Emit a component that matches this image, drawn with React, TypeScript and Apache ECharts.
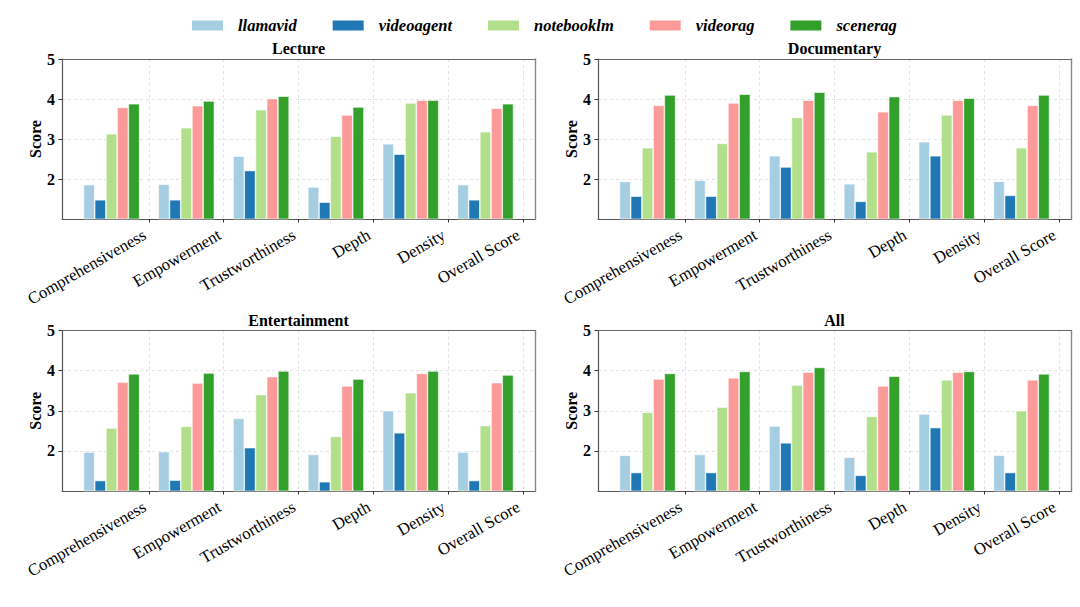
import React, { useEffect, useRef } from 'react';
import * as echarts from 'echarts';

const categories = ['Comprehensiveness', 'Empowerment', 'Trustworthiness', 'Depth', 'Density', 'Overall Score'];
const models = ['llamavid', 'videoagent', 'notebooklm', 'videorag', 'scenerag'];
const colors = ['#a6cee3', '#1f78b4', '#b2df8a', '#fb9a99', '#33a02c'];
const panelTitles = ['Lecture', 'Documentary', 'Entertainment', 'All'];
const yTicks = [2, 3, 4, 5];

// values per panel, per model (in categories order)
const lecture = [
  [1.86, 1.87, 2.57, 1.80, 2.88, 1.86],
  [1.48, 1.48, 2.21, 1.42, 2.62, 1.48],
  [3.13, 3.28, 3.73, 3.07, 3.90, 3.18],
  [3.79, 3.83, 4.01, 3.60, 3.97, 3.77],
  [3.88, 3.95, 4.07, 3.80, 3.97, 3.88],
];
const documentary = [
  [1.94, 1.97, 2.58, 1.88, 2.93, 1.94],
  [1.57, 1.57, 2.30, 1.44, 2.58, 1.59],
  [2.78, 2.89, 3.54, 2.68, 3.60, 2.78],
  [3.84, 3.90, 3.97, 3.68, 3.97, 3.84],
  [4.10, 4.12, 4.17, 4.06, 4.02, 4.10],
];
const entertainment = [
  [1.97, 1.98, 2.81, 1.91, 3.00, 1.97],
  [1.26, 1.27, 2.08, 1.23, 2.45, 1.26],
  [2.57, 2.61, 3.40, 2.36, 3.45, 2.63],
  [3.71, 3.69, 3.85, 3.62, 3.93, 3.70],
  [3.92, 3.94, 3.99, 3.79, 3.99, 3.89],
];
const allData = [
  [1.89, 1.91, 2.62, 1.84, 2.92, 1.89],
  [1.46, 1.46, 2.20, 1.39, 2.58, 1.46],
  [2.96, 3.09, 3.64, 2.86, 3.77, 3.00],
  [3.79, 3.82, 3.96, 3.62, 3.96, 3.77],
  [3.93, 3.98, 4.08, 3.86, 3.98, 3.92],
];
const panels = [lecture, documentary, entertainment, allData];

const FONT = 'Liberation Serif';
const BAR_W = 0.15;
const X_MIN = -0.6625;
const X_MAX = 5.6625;
const tickPos = categories.map((_, i) => i + 0.5);

const grids = [
  { left: 62, top: 59, width: 473, height: 160 },
  { left: 598, top: 59, width: 473, height: 160 },
  { left: 62, top: 330.5, width: 473, height: 160.5 },
  { left: 598, top: 330.5, width: 473, height: 160.5 },
];
const titleTops = [40, 40, 312, 312];

function buildOption() {
  const grid = grids.map((g) => ({ ...g, show: false }));
  const title = panelTitles.map((t, p) => ({
    text: t,
    left: grids[p].left + grids[p].width / 2,
    top: titleTops[p],
    padding: 0,
    textAlign: 'center',
    textStyle: { fontFamily: FONT, fontWeight: 'bold', fontSize: 16, color: '#000' },
  }));
  const gridLine = { show: true, lineStyle: { color: '#dcdcdc', type: [3, 3], width: 0.8 } };
  const xAxis: any[] = [];
  const yAxis: any[] = [];
  grids.forEach((_, p) => {
    xAxis.push({
      type: 'value',
      gridIndex: p,
      position: 'bottom',
      min: X_MIN,
      max: X_MAX,
      axisLine: { show: true, onZero: false, lineStyle: { color: '#555', width: 1.2 } },
      axisTick: { show: true, length: 3.5, customValues: tickPos, lineStyle: { color: '#333' } },
      axisLabel: {
        customValues: tickPos,
        rotate: 30,
        margin: 12,
        padding: [0, 5, 0, 0],
        fontFamily: FONT,
        fontSize: 16.7,
        color: '#000',
        formatter: (v: number) => categories[Math.round(v - 0.5)] ?? '',
      },
      splitLine: gridLine,
    });
    yAxis.push({
      type: 'value',
      gridIndex: p,
      position: 'left',
      min: 1,
      max: 5,
      interval: 1,
      name: 'Score',
      nameLocation: 'middle',
      nameGap: 19,
      nameTextStyle: { fontFamily: FONT, fontWeight: 'bold', fontSize: 16, color: '#000' },
      axisLine: { show: true, onZero: false, lineStyle: { color: '#555', width: 1.2 } },
      axisTick: { show: true, length: 3.5, customValues: yTicks, lineStyle: { color: '#333' } },
      axisLabel: {
        customValues: yTicks,
        margin: 7,
        fontFamily: FONT,
        fontWeight: 'bold',
        fontSize: 16,
        color: '#000',
      },
      splitLine: gridLine,
    });
  });
  // frame: top and right spines
  grids.forEach((_, p) => {
    xAxis.push({
      type: 'value',
      gridIndex: p,
      position: 'top',
      min: X_MIN,
      max: X_MAX,
      axisLine: { show: true, onZero: false, lineStyle: { color: '#666', width: 1.2 } },
      axisTick: { show: false },
      axisLabel: { show: false },
      splitLine: { show: false },
    });
    yAxis.push({
      type: 'value',
      gridIndex: p,
      position: 'right',
      min: 1,
      max: 5,
      interval: 1,
      axisLine: { show: true, onZero: false, lineStyle: { color: '#888', width: 1.4 } },
      axisTick: { show: false },
      axisLabel: { show: false },
      splitLine: { show: false },
    });
  });
  const series: any[] = [];
  panels.forEach((panel, p) => {
    panel.forEach((vals, j) => {
      series.push({
        type: 'bar',
        name: models[j],
        xAxisIndex: p,
        yAxisIndex: p,
        barWidth: 11.2,
        barGap: '-100%',
        itemStyle: { color: colors[j], borderColor: '#ffffff', borderWidth: 0.6 },
        data: vals.map((v, i) => [i + (j - 2) * BAR_W, v]),
      });
    });
  });
  return {
    animation: false,
    backgroundColor: '#ffffff',
    title,
    legend: {
      data: models,
      left: 190,
      top: 17,
      padding: 0,
      icon: 'rect',
      itemWidth: 33,
      itemHeight: 12,
      itemGap: 34,
      textStyle: {
        fontFamily: FONT,
        fontWeight: 'bold',
        fontStyle: 'italic',
        fontSize: 16.5,
        color: '#000',
        padding: [0, 0, 0, 9],
      },
    },
    grid,
    xAxis,
    yAxis,
    series,
  };
}

export default function App() {
  const ref = useRef<HTMLDivElement>(null);
  useEffect(() => {
    const chart = echarts.init(ref.current as HTMLDivElement, null, { renderer: 'svg' });
    chart.setOption(buildOption() as any);
    return () => chart.dispose();
  }, []);
  return (
    <div
      ref={ref}
      style={{ position: 'absolute', left: 0, top: 0, width: 1080, height: 607, background: '#fff' }}
    />
  );
}
